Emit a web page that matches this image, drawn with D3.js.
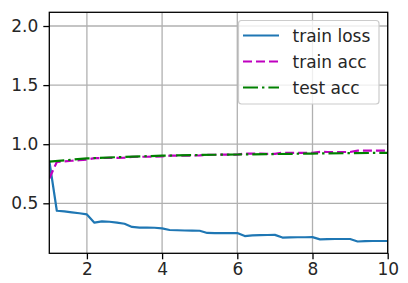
<!DOCTYPE html>
<html><head><meta charset="utf-8">
<script src="https://cdn.jsdelivr.net/npm/d3@7/dist/d3.min.js"></script>
<style>html,body{margin:0;padding:0;background:#fff;}svg{display:block;}</style>
</head><body><svg id="c" width="408" height="283"></svg>
<script>
const batchX = [1.0,1.2,1.4,1.6,1.8,2.0,2.2,2.4,2.6,2.8,3.0,3.2,3.4,3.6,3.8,4.0,4.2,4.4,4.6,4.8,5.0,5.2,5.4,5.6,5.8,6.0,6.2,6.4,6.6,6.8,7.0,7.2,7.4,7.6,7.8,8.0,8.2,8.4,8.6,8.8,9.0,9.2,9.4,9.6,9.8,10.0];
const trainLoss = [0.86,0.437,0.432,0.424,0.416,0.406,0.336,0.347,0.344,0.337,0.327,0.300,0.295,0.294,0.293,0.288,0.274,0.272,0.270,0.269,0.268,0.249,0.248,0.248,0.248,0.248,0.223,0.228,0.230,0.232,0.233,0.210,0.212,0.213,0.213,0.214,0.195,0.197,0.198,0.198,0.198,0.177,0.180,0.181,0.181,0.181];
const trainAcc = [0.71,0.850,0.855,0.860,0.865,0.870,0.882,0.883,0.884,0.885,0.886,0.893,0.894,0.894,0.895,0.896,0.903,0.903,0.904,0.904,0.905,0.911,0.911,0.912,0.912,0.912,0.921,0.920,0.920,0.919,0.919,0.928,0.927,0.927,0.927,0.927,0.935,0.934,0.934,0.934,0.934,0.946,0.945,0.945,0.945,0.945];
const epochX = [1,2,3,4,5,6,7,8,9,10];
const testAcc = [0.853,0.880,0.893,0.903,0.909,0.913,0.917,0.921,0.924,0.927];
const xTicks = [2,4,6,8,10];
const yTicks = [0.5,1.0,1.5,2.0];
const seriesNames = ["train loss","train acc","test acc"];

const svg = d3.select("#c");
const L=49.3, R=387.7, T=12.3, B=253.3;
const x = d3.scaleLinear().domain([1,10]).range([L,R]);
const y = d3.scaleLinear().domain([0.077,2.116]).range([B,T]);
const font = "DejaVu Sans, sans-serif";
const fs = 17;
const lw = 2.2;

svg.append("defs").append("clipPath").attr("id","clip")
  .append("rect").attr("x",L).attr("y",T).attr("width",R-L).attr("height",B-T);

// grid
const g = svg.append("g");
g.selectAll(".gx").data(xTicks).enter().append("line")
  .attr("x1",d=>x(d)).attr("x2",d=>x(d)).attr("y1",T).attr("y2",B)
  .attr("stroke","#b0b0b0").attr("stroke-width",1.3);
g.selectAll(".gy").data(yTicks).enter().append("line")
  .attr("y1",d=>y(d)).attr("y2",d=>y(d)).attr("x1",L).attr("x2",R)
  .attr("stroke","#b0b0b0").attr("stroke-width",1.3);

// lines
const pl = svg.append("g").attr("clip-path","url(#clip)");
const lineXY = (xs,ys)=>d3.line().x((d,i)=>x(xs[i])).y(d=>y(d))(ys);
pl.append("path").attr("d",lineXY(batchX,trainLoss)).attr("fill","none")
  .attr("stroke","#1f77b4").attr("stroke-width",lw).attr("stroke-linejoin","round");
pl.append("path").attr("d",lineXY(batchX,trainAcc)).attr("fill","none")
  .attr("stroke","#bf00bf").attr("stroke-width",lw).attr("stroke-dasharray","9,4");
pl.append("path").attr("d",lineXY(epochX,testAcc)).attr("fill","none")
  .attr("stroke","#008000").attr("stroke-width",lw).attr("stroke-dasharray","15,4,2.4,4");

// axes
const xAxis = d3.axisBottom(x).tickValues(xTicks).tickSize(6).tickPadding(4).tickFormat(d3.format("d"));
const yAxis = d3.axisLeft(y).tickValues(yTicks).tickSize(6).tickPadding(5).tickFormat(d3.format(".1f"));
const ax = svg.append("g").attr("transform",`translate(0,${B})`).call(xAxis);
const ay = svg.append("g").attr("transform",`translate(${L},0)`).call(yAxis);
[ax,ay].forEach(a=>{
  a.select(".domain").remove();
  a.selectAll("line").attr("stroke","#000").attr("stroke-width",1.3);
  a.selectAll("text").attr("font-family",font).attr("font-size",fs).attr("fill","#262626");
});
svg.append("rect").attr("x",L).attr("y",T).attr("width",R-L).attr("height",B-T)
  .attr("fill","none").attr("stroke","#000").attr("stroke-width",1.3);

// legend
const lg = svg.append("g");
lg.append("rect").attr("x",238.5).attr("y",20.5).attr("width",140.5).attr("height",83.5)
  .attr("rx",3).attr("fill","#fff").attr("fill-opacity",0.8).attr("stroke","#cccccc").attr("stroke-width",1.2);
const styles = [
  {c:"#1f77b4",d:null},
  {c:"#bf00bf",d:"9,4"},
  {c:"#008000",d:"15,4,2.4,4"}
];
seriesNames.forEach((n,i)=>{
  const yy = 35.5 + i*26;
  const ln = lg.append("line").attr("x1",243).attr("x2",279).attr("y1",yy).attr("y2",yy)
    .attr("stroke",styles[i].c).attr("stroke-width",lw);
  if(styles[i].d) ln.attr("stroke-dasharray",styles[i].d);
  lg.append("text").attr("x",292.5).attr("y",yy+6).text(n)
    .attr("font-family",font).attr("font-size",fs).attr("fill","#262626");
});
</script></body></html>
